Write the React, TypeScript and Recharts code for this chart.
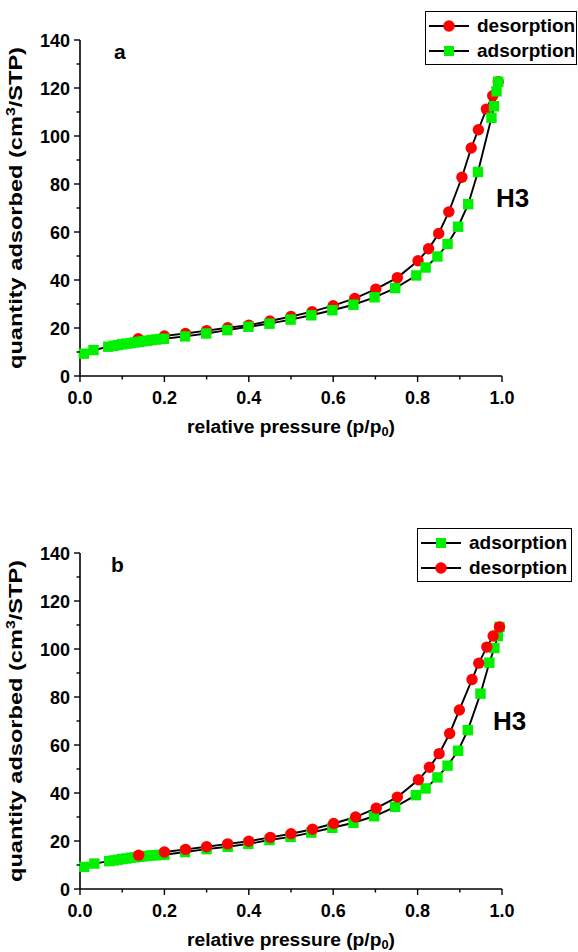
import React from 'react';
import { LineChart, Line, XAxis, YAxis } from 'recharts';

// ---------- Data ----------
// Chart (a)
const aAdsX = [0.009, 0.032, 0.067, 0.08, 0.09, 0.1, 0.11, 0.12, 0.13, 0.14, 0.15, 0.16, 0.17, 0.18, 0.19, 0.199, 0.249, 0.299, 0.349, 0.399, 0.449, 0.499, 0.548, 0.598, 0.648, 0.698, 0.747, 0.797, 0.819, 0.847, 0.871, 0.896, 0.92, 0.943, 0.975, 0.981, 0.987, 0.991];
const aAdsY = [9.3, 10.8, 12.2, 12.6, 12.9, 13.2, 13.5, 13.7, 14.0, 14.2, 14.5, 14.7, 15.0, 15.2, 15.4, 15.5, 16.5, 17.7, 19.1, 20.5, 21.8, 23.5, 25.3, 27.4, 29.7, 32.8, 36.6, 41.9, 45.2, 49.8, 55.0, 62.2, 71.6, 85.0, 107.6, 112.4, 118.6, 122.6];
const aDesX = [0.991, 0.978, 0.963, 0.944, 0.927, 0.905, 0.874, 0.85, 0.826, 0.801, 0.752, 0.701, 0.651, 0.6, 0.55, 0.5, 0.45, 0.4, 0.35, 0.3, 0.25, 0.2, 0.138];
const aDesY = [122.6, 116.8, 111.2, 102.6, 95.0, 82.8, 68.4, 59.4, 53.0, 48.0, 41.0, 36.2, 32.3, 29.3, 26.8, 24.8, 22.9, 21.2, 20.1, 18.9, 17.7, 16.7, 15.5];

// Chart (b)
const bAdsX = [0.01, 0.034, 0.069, 0.08, 0.09, 0.1, 0.11, 0.12, 0.13, 0.14, 0.15, 0.16, 0.17, 0.18, 0.19, 0.2, 0.249, 0.3, 0.35, 0.399, 0.449, 0.499, 0.548, 0.598, 0.648, 0.697, 0.747, 0.796, 0.819, 0.847, 0.871, 0.896, 0.919, 0.949, 0.97, 0.982, 0.99, 0.994];
const bAdsY = [9.2, 10.6, 11.6, 11.9, 12.2, 12.5, 12.7, 13.0, 13.2, 13.4, 13.6, 13.8, 14.0, 14.1, 14.2, 14.3, 15.4, 16.6, 17.6, 18.8, 20.4, 21.7, 23.5, 25.5, 27.6, 30.3, 34.2, 39.1, 41.9, 46.5, 51.4, 57.6, 66.2, 81.4, 94.3, 100.4, 105.4, 109.2];
const bDesX = [0.994, 0.979, 0.964, 0.945, 0.929, 0.899, 0.876, 0.851, 0.828, 0.802, 0.752, 0.702, 0.653, 0.601, 0.551, 0.5, 0.451, 0.4, 0.35, 0.3, 0.25, 0.2, 0.139];
const bDesY = [109.2, 105.4, 100.8, 94.1, 87.3, 74.6, 64.8, 56.4, 50.7, 45.5, 38.3, 33.7, 30.0, 27.3, 24.9, 23.0, 21.5, 19.9, 18.8, 17.6, 16.5, 15.4, 14.1];

const xTicks = [0, 0.1, 0.2, 0.3, 0.4, 0.5, 0.6, 0.7, 0.8, 0.9, 1.0];
const yTicks = [0, 10, 20, 30, 40, 50, 60, 70, 80, 90, 100, 110, 120, 130, 140];

const ADS_NAME = 'adsorption';
const DES_NAME = 'desorption';
const X_TITLE = 'relative pressure (p/p';
const X_SUB = '0';
const Y_TITLE = 'quantity adsorbed (cm';
const Y_SUP = '3';
const Y_TITLE_END = '/STP)';

const zip = (xs: number[], ys: number[]) => xs.map((x, i) => ({ x, y: ys[i] }));

// ---------- Styles ----------
const FONT = '"Liberation Sans", Arial, sans-serif';
const RED = '#ff0000';
const GREEN = '#00f000';
const W = 578;
const H = 476;
const PLOT_LEFT = 80;
const PLOT_RIGHT = 502;

const CircleDot = (props: any) => {
  const { cx, cy, index } = props;
  if (cx == null || cy == null) return <g key={'c' + index} />;
  return <circle key={'c' + index} cx={cx} cy={cy} r={5.7} fill={RED} />;
};
const SquareDot = (props: any) => {
  const { cx, cy, index } = props;
  if (cx == null || cy == null) return <g key={'s' + index} />;
  return <rect key={'s' + index} x={cx - 5.2} y={cy - 5.2} width={10.4} height={10.4} fill={GREEN} />;
};

const makeXTick = (plotBottom: number) => (props: any) => {
  const { x, payload } = props;
  const v = payload.value as number;
  const major = Math.round(v * 10) % 2 === 0;
  return (
    <g>
      <line x1={x} x2={x} y1={plotBottom} y2={plotBottom + (major ? 6 : 3.5)} stroke="#000" strokeWidth={1.4} />
      {major && (
        <text x={x} y={plotBottom + 28} textAnchor="middle" fontFamily={FONT} fontWeight="bold" fontSize={18} fill="#000">
          {v.toFixed(1)}
        </text>
      )}
    </g>
  );
};

const YTick = (props: any) => {
  const { y, payload } = props;
  const v = payload.value as number;
  const major = v % 20 === 0;
  return (
    <g>
      <line x1={PLOT_LEFT} x2={PLOT_LEFT - (major ? 6 : 3.5)} y1={y} y2={y} stroke="#000" strokeWidth={1.4} />
      {major && (
        <text x={PLOT_LEFT - 10} y={y + 6.5} textAnchor="end" fontFamily={FONT} fontWeight="bold" fontSize={18} fill="#000">
          {v}
        </text>
      )}
    </g>
  );
};

const LegendRow = ({ kind, label }: { kind: 'ads' | 'des'; label: string }) => (
  <div style={{ display: 'flex', alignItems: 'center', height: 25 }}>
    <svg width={42} height={16} style={{ display: 'block', flex: 'none' }}>
      <line x1={1} x2={41} y1={8} y2={8} stroke="#000" strokeWidth={2.2} />
      {kind === 'des' ? <circle cx={21} cy={8} r={5.8} fill={RED} /> : <rect x={16} y={3} width={10} height={10} fill={GREEN} />}
    </svg>
    <span style={{ marginLeft: 7, fontFamily: FONT, fontWeight: 'bold', fontSize: 19, lineHeight: '25px', color: '#000', whiteSpace: 'nowrap' }}>{label}</span>
  </div>
);

type PanelProps = {
  ads: { x: number; y: number }[];
  des: { x: number; y: number }[];
  order: Array<'ads' | 'des'>;
  marginTop: number;
  marginBottom: number;
  legendPos: { left: number; top: number; width: number };
  letter: string;
  letterPos: { left: number; top: number };
  h3Pos: { left: number; top: number };
};

const Panel = ({ ads, des, order, marginTop, marginBottom, legendPos, letter, letterPos, h3Pos }: PanelProps) => {
  const plotBottom = H - marginBottom - 60;
  const plotTop = marginTop;
  const cy = (plotTop + plotBottom) / 2;
  const series = order.map((k) =>
    k === 'ads' ? (
      <Line key="ads" data={ads} dataKey="y" name={ADS_NAME} type="linear" stroke="#000" strokeWidth={1.9} dot={SquareDot} activeDot={false} isAnimationActive={false} />
    ) : (
      <Line key="des" data={des} dataKey="y" name={DES_NAME} type="linear" stroke="#000" strokeWidth={1.9} dot={CircleDot} activeDot={false} isAnimationActive={false} />
    )
  );
  return (
    <div style={{ position: 'relative', width: W, height: H }}>
      <LineChart width={W} height={H} margin={{ top: marginTop, right: W - PLOT_RIGHT, left: 0, bottom: marginBottom }}>
        <XAxis
          dataKey="x"
          type="number"
          domain={[0, 1]}
          ticks={xTicks}
          interval={0}
          allowDuplicatedCategory={false}
          height={60}
          axisLine={{ stroke: '#000', strokeWidth: 1.6 }}
          tickLine={false}
          tick={makeXTick(plotBottom)}
          label={{
            content: () => (
              <text
                x={(PLOT_LEFT + PLOT_RIGHT) / 2}
                y={plotBottom + 57}
                textAnchor="middle"
                fontFamily={FONT}
                fontWeight="bold"
                fontSize={18}
                fill="#000"
                textLength={208}
                lengthAdjust="spacingAndGlyphs"
              >
                {X_TITLE}
                <tspan fontSize={12} dy={3}>{X_SUB}</tspan>
                <tspan dy={-3}>)</tspan>
              </text>
            ),
          }}
        />
        <YAxis
          type="number"
          domain={[0, 140]}
          ticks={yTicks}
          interval={0}
          width={PLOT_LEFT}
          axisLine={{ stroke: '#000', strokeWidth: 1.6 }}
          tickLine={false}
          tick={YTick}
          label={{
            content: () => (
              <text
                x={22}
                y={cy}
                transform={`rotate(-90, 22, ${cy})`}
                textAnchor="middle"
                fontFamily={FONT}
                fontWeight="bold"
                fontSize={18}
                fill="#000"
                textLength={322}
                lengthAdjust="spacingAndGlyphs"
              >
                {Y_TITLE}
                <tspan fontSize={12} dy={-7}>{Y_SUP}</tspan>
                <tspan dy={7}>{Y_TITLE_END}</tspan>
              </text>
            ),
          }}
        />
        {series}
      </LineChart>
      <div
        style={{
          position: 'absolute',
          left: legendPos.left,
          top: legendPos.top,
          width: legendPos.width,
          border: '1.5px solid #000',
          background: '#fff',
          padding: '1px 0 1px 2px',
          boxSizing: 'border-box',
        }}
      >
        {order.map((k) => (
          <LegendRow key={k} kind={k} label={k === 'ads' ? ADS_NAME : DES_NAME} />
        ))}
      </div>
      <div style={{ position: 'absolute', left: letterPos.left, top: letterPos.top, fontFamily: FONT, fontWeight: 'bold', fontSize: 21, lineHeight: '21px', color: '#000' }}>
        {letter}
      </div>
      <div style={{ position: 'absolute', left: h3Pos.left, top: h3Pos.top, fontFamily: FONT, fontWeight: 'bold', fontSize: 26, lineHeight: '26px', color: '#000' }}>
        H3
      </div>
    </div>
  );
};

export default function App() {
  return (
    <div style={{ position: 'absolute', left: 0, top: 0, width: W, height: 952, background: '#fff' }}>
      <Panel
        ads={zip(aAdsX, aAdsY)}
        des={zip(aDesX, aDesY)}
        order={['des', 'ads']}
        marginTop={40}
        marginBottom={40}
        legendPos={{ left: 425, top: 11, width: 152 }}
        letter="a"
        letterPos={{ left: 114, top: 41 }}
        h3Pos={{ left: 496, top: 185 }}
      />
      <Panel
        ads={zip(bAdsX, bAdsY)}
        des={zip(bDesX, bDesY)}
        order={['ads', 'des']}
        marginTop={77}
        marginBottom={3}
        legendPos={{ left: 417, top: 52, width: 155 }}
        letter="b"
        letterPos={{ left: 111, top: 78 }}
        h3Pos={{ left: 493, top: 232 }}
      />
    </div>
  );
}
